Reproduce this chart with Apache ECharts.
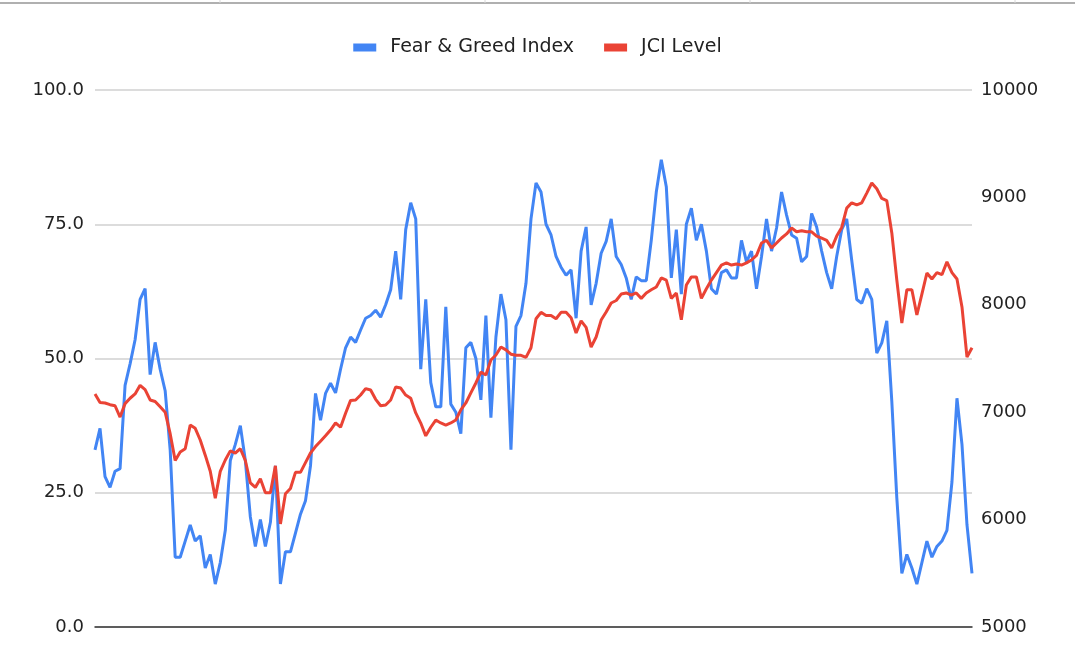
<!DOCTYPE html>
<html>
<head>
<meta charset="utf-8">
<script src="https://cdn.jsdelivr.net/npm/echarts@6/dist/echarts.min.js"></script>
<style>
html,body{margin:0;padding:0;background:#fff;}
#c{width:1075px;height:667px;}
</style>
</head>
<body>
<div id="c"></div>
<script>
const seriesNames = ['Fear & Greed Index', 'JCI Level'];
const fearGreed = [
33,37,28,26,29,29.5,45,49,53.5,61,63,47,53,48,44,33,13,13,16,19,
16,17,11,13.5,8,12,18,31,34,37.5,31,20.5,15,20,15,19.5,30,8,14,14,
17.5,21,23.5,30,43.5,38.5,43.5,45.4,43.6,48,52,54,53,55.3,57.5,58,59,57.7,60,62.8,
70,61,74,79,76,48,61,45.5,41,41,59.6,41.5,40,36,52,53,50,42.3,58,39,
54,62,57.2,33,56,58,64,76,82.7,81,75,73,69,67,65.5,66.5,57.5,70,74.5,60,
64,69.6,71.8,76,69,67.5,65,61,65.2,64.5,64.5,72,81,87,82,65,74,62,75,78,
72,75,70,63,62,66,66.5,65,65,72,68,70,63,69,76,70,74.3,81,76.7,73,
72.4,68,69,77,74.5,70,66,63,69,74,76,68.3,61,60.3,63,61,51,52.9,57,42,
24,10,13.5,11,8,12,16,13,15,16,18,27,42.6,34,19,10
];
const jciLevel = [
7170,7090,7086,7070,7060,6955,7080,7130,7170,7250,7210,7114,7100,7050,7000,6800,6550,6630,6660,6880,
6850,6741,6600,6450,6200,6450,6555,6640,6620,6660,6550,6341,6300,6380,6250,6250,6500,5960,6240,6290,
6440,6440,6530,6620,6680,6730,6780,6834,6900,6860,6990,7110,7114,7160,7220,7207,7120,7060,7067,7114,
7235,7225,7160,7130,6993,6899,6780,6860,6927,6900,6880,6900,6927,7021,7086,7180,7272,7374,7346,7486,
7533,7607,7580,7540,7530,7530,7510,7600,7870,7930,7900,7900,7870,7930,7930,7880,7737,7850,7790,7607,
7700,7858,7933,8017,8040,8100,8110,8090,8110,8060,8110,8140,8166,8250,8230,8060,8110,7860,8184,8260,
8260,8060,8150,8230,8300,8370,8390,8370,8380,8370,8390,8417,8460,8575,8600,8530,8575,8622,8660,8715,
8680,8690,8680,8680,8640,8620,8600,8529,8640,8720,8900,8950,8930,8950,9040,9134,9080,8990,8970,8669,
8230,7830,8140,8140,7905,8100,8296,8240,8300,8280,8400,8300,8240,7980,7514,7600
];
const leftTickLabels = ['0.0','25.0','50.0','75.0','100.0'];
const rightTickLabels = ['5000','6000','7000','8000','9000','10000'];

const chart = echarts.init(document.getElementById('c'), null, {renderer:'canvas'});
const font = '"DejaVu Sans", Arial, sans-serif';
chart.setOption({
  animation: false,
  backgroundColor: '#fff',
  graphic: [
    {type:'line', shape:{x1:0,y1:3,x2:1075,y2:3}, style:{stroke:'#b0b0b0', lineWidth:2}, silent:true},
    {type:'line', shape:{x1:220,y1:0,x2:220,y2:3}, style:{stroke:'#d8d8d8', lineWidth:1}, silent:true},
    {type:'line', shape:{x1:485,y1:0,x2:485,y2:3}, style:{stroke:'#d8d8d8', lineWidth:1}, silent:true},
    {type:'line', shape:{x1:750,y1:0,x2:750,y2:3}, style:{stroke:'#d8d8d8', lineWidth:1}, silent:true},
    {type:'line', shape:{x1:1015,y1:0,x2:1015,y2:3}, style:{stroke:'#d8d8d8', lineWidth:1}, silent:true}
  ],
  legend: {
    top: 33,
    left: 'center',
    icon: 'rect',
    itemWidth: 23,
    itemHeight: 8,
    itemGap: 30,
    textStyle: {fontFamily: font, fontSize: 19, color: '#222', padding:[0,0,0,9]},
    data: seriesNames
  },
  grid: {left: 95, right: 103, top: 90, bottom: 40, containLabel: false},
  xAxis: {
    type: 'category',
    boundaryGap: false,
    axisLine: {show: true, lineStyle: {color: '#333', width: 1.5}},
    axisTick: {show: false},
    axisLabel: {show: false},
    splitLine: {show: false}
  },
  yAxis: [
    {
      type: 'value', min: 0, max: 100, interval: 25,
      axisLine: {show: false}, axisTick: {show: false},
      axisLabel: {fontFamily: font, fontSize: 18, color: '#222', margin: 11,
        formatter: v => leftTickLabels[Math.round(v/25)]},
      splitLine: {show: true, lineStyle: {color: '#d0d0d0', width: 1.5}}
    },
    {
      type: 'value', min: 5000, max: 10000, interval: 1000,
      axisLine: {show: false}, axisTick: {show: false},
      axisLabel: {fontFamily: font, fontSize: 18, color: '#222', margin: 9,
        formatter: v => rightTickLabels[Math.round((v-5000)/1000)]},
      splitLine: {show: false}
    }
  ],
  series: [
    {name: seriesNames[0], type: 'line', yAxisIndex: 0, data: fearGreed, showSymbol: false,
     lineStyle: {color: '#4285F4', width: 3}, itemStyle: {color: '#4285F4'}},
    {name: seriesNames[1], type: 'line', yAxisIndex: 1, data: jciLevel, showSymbol: false,
     lineStyle: {color: '#EA4335', width: 3}, itemStyle: {color: '#EA4335'}}
  ]
});
</script>
</body>
</html>
